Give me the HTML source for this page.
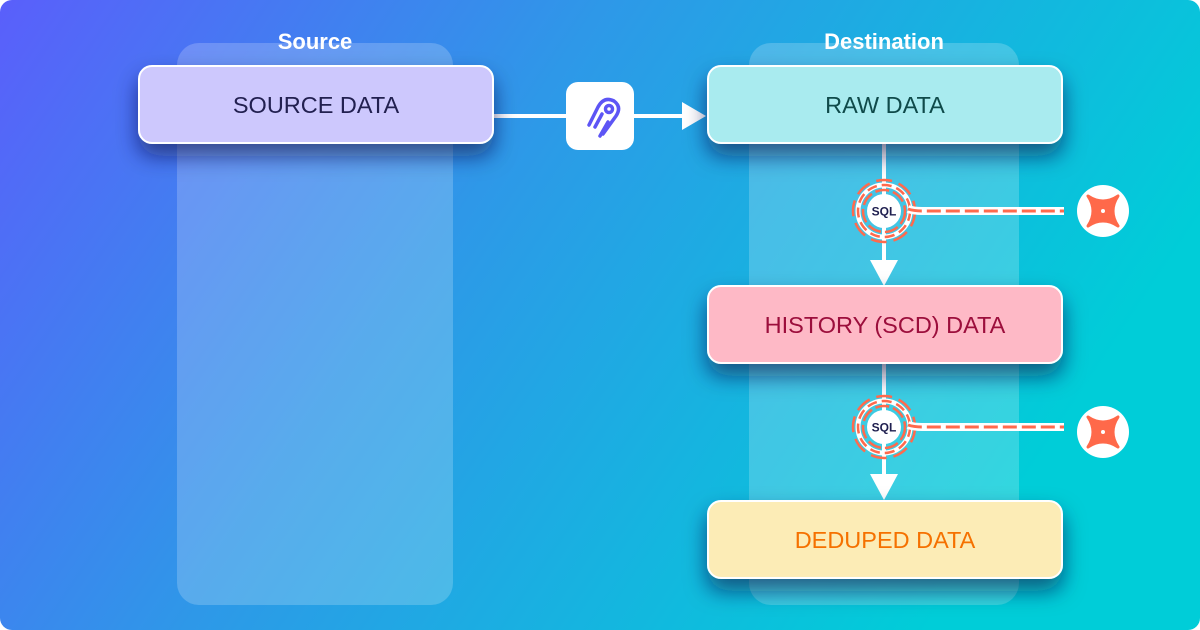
<!DOCTYPE html>
<html><head><meta charset="utf-8"><style>
html,body{margin:0;padding:0;width:1200px;height:630px;overflow:hidden;}
svg{display:block}
text{font-family:"Liberation Sans",sans-serif;}
</style></head><body>
<svg width="1200" height="630" viewBox="0 0 1200 630" xmlns="http://www.w3.org/2000/svg">
<defs>
<linearGradient id="bg" x1="0" y1="0" x2="1" y2="0.35">
<stop offset="0" stop-color="#5a5ffb"/>
<stop offset="0.45" stop-color="#2e98e8"/>
<stop offset="1" stop-color="#00cdd8"/>
</linearGradient>
<filter id="sh" x="-20%" y="-30%" width="140%" height="200%">
<feDropShadow dx="0" dy="12" stdDeviation="11" flood-color="#15184a" flood-opacity="0.6"/>
</filter>
<g id="sql">
<circle r="17" fill="#fff"/>
<circle r="21" fill="none" stroke="#ff6a4d" stroke-width="2.5" stroke-dasharray="14 4"/>
<circle r="26" fill="none" stroke="#fff" stroke-width="5"/>
<circle r="26" fill="none" stroke="#ff6a4d" stroke-width="2.5" stroke-dasharray="10 5"/>
<circle r="31" fill="none" stroke="#ff6a4d" stroke-width="2.5" stroke-dasharray="16 7"/>
<path d="M24 -2 Q30 0 38 0 L180 0" fill="none" stroke="#fff" stroke-width="8"/>
<path d="M24 -2 Q30 0 38 0 L180 0" fill="none" stroke="#ff6a4d" stroke-width="3" stroke-dasharray="14 5"/>
<text x="0" y="4.5" font-size="12" font-weight="bold" text-anchor="middle" fill="#1f1f4f">SQL</text>
</g>
<g id="dbt">
<circle r="26" fill="#fff"/>
<path d="M-15 -15 Q0 -5 15 -15 Q5 0 15 15 Q0 5 -15 15 Q-5 0 -15 -15 Z" fill="#ff694a" stroke="#ff694a" stroke-width="3" stroke-linejoin="round"/>
<circle r="2" fill="#fff"/>
</g>
</defs>
<rect width="1200" height="630" rx="12" fill="url(#bg)"/>
<rect x="177" y="43" width="276" height="562" rx="22" fill="#fff" fill-opacity="0.2"/>
<rect x="749" y="43" width="270" height="562" rx="22" fill="#fff" fill-opacity="0.2"/>
<text x="315" y="49" font-size="22" font-weight="bold" fill="#fff" text-anchor="middle">Source</text>
<text x="884" y="49" font-size="22" font-weight="bold" fill="#fff" text-anchor="middle">Destination</text>

<line x1="490" y1="116" x2="690" y2="116" stroke="#fff" stroke-width="4"/>
<polygon points="682,102 706,116 682,130" fill="#fff"/>
<rect x="566" y="82" width="68" height="68" rx="12" fill="#fff"/>
<g fill="none" stroke="#5d55f5" stroke-width="3.5" stroke-linecap="round">
<path d="M589 125 L598 107 Q604 96 614 101 Q622 107 616 116 L603 134"/>
<path d="M595 127 L602 114"/>
<circle cx="609" cy="109" r="3.5"/>
<path d="M608 122 L600 136"/>
</g>

<line x1="884" y1="143" x2="884" y2="265" stroke="#fff" stroke-width="4"/>
<polygon points="870,260 898,260 884,286" fill="#fff"/>
<line x1="884" y1="363" x2="884" y2="478" stroke="#fff" stroke-width="4"/>
<polygon points="870,474 898,474 884,500" fill="#fff"/>

<g filter="url(#sh)" stroke="#fff" stroke-width="2">
<rect x="139" y="66" width="354" height="77" rx="13" fill="#cdc8fd"/>
<rect x="708" y="66" width="354" height="77" rx="13" fill="#a9ebef"/>
<rect x="708" y="286" width="354" height="77" rx="13" fill="#feb9c6"/>
<rect x="708" y="501" width="354" height="77" rx="13" fill="#fcecb6"/>
</g>
<text x="316" y="113" font-size="23.5" fill="#222050" text-anchor="middle">SOURCE DATA</text>
<text x="885" y="113" font-size="23.5" fill="#0f4a4a" text-anchor="middle">RAW DATA</text>
<text x="885" y="333" font-size="23.5" fill="#9c0e3c" text-anchor="middle">HISTORY (SCD) DATA</text>
<text x="885" y="548" font-size="23.5" fill="#f57100" text-anchor="middle">DEDUPED DATA</text>

<use href="#sql" x="884" y="211"/>
<use href="#sql" x="884" y="427"/>
<use href="#dbt" x="1103" y="211"/>
<use href="#dbt" x="1103" y="432"/>
</svg>
</body></html>
